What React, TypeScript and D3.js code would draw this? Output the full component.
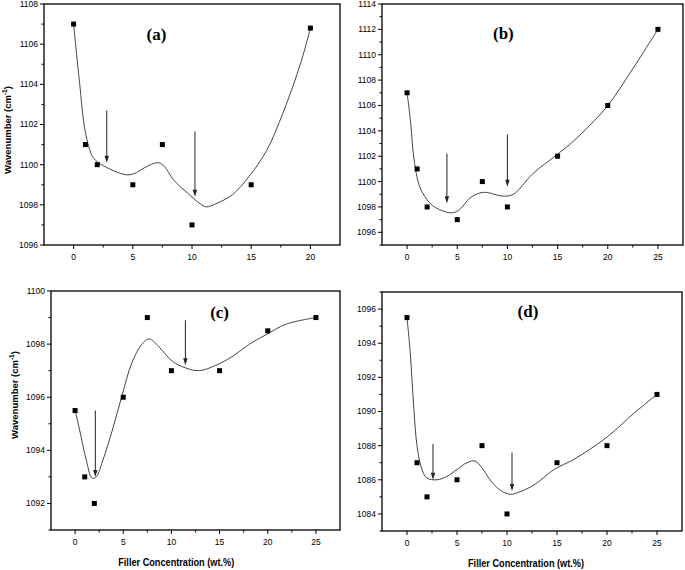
import * as d3 from "d3";

// panel (a)
const aX = [0, 1, 2, 5, 7.5, 10, 15, 20];
const aY = [1107, 1101, 1100, 1099, 1101, 1097, 1099, 1106.8];
const aFitX = [0, 0.5, 1, 1.6, 2.1, 3, 4.4, 5.1, 6, 7.1, 7.6, 8.5, 9.6, 10.7, 11.2, 12, 13.4, 14.8, 16.3, 17.7, 19.2, 20];
const aFitY = [1107, 1104.1, 1101.6, 1100.4, 1100.1, 1099.8, 1099.5, 1099.55, 1099.85, 1100.1, 1099.95, 1099.2, 1098.6, 1098.05, 1097.9, 1098.05, 1098.5, 1099.4, 1100.7, 1102.6, 1105.1, 1106.8];
const aArrows = [[2.8, 1102.7, 1100.1], [10.25, 1101.65, 1098.4]];

// panel (b)
const bX = [0, 1, 2, 5, 7.5, 10, 15, 20, 25];
const bY = [1107, 1101, 1098, 1097, 1100, 1098, 1102, 1106, 1112];
const bFitX = [0, 0.33, 0.66, 1.1, 1.55, 2.55, 3.9, 4.6, 5.25, 6.25, 7.25, 7.9, 8.9, 9.6, 10.6, 12.5, 14.9, 16.6, 19.9, 22.5, 25];
const bFitY = [1107, 1104.85, 1101.95, 1100, 1099.1, 1098.1, 1097.6, 1097.55, 1097.8, 1098.7, 1099.1, 1099.15, 1098.95, 1098.85, 1099.0, 1100.6, 1102.1, 1103.2, 1105.9, 1108.9, 1112];
const bArrows = [[3.97, 1102.2, 1098.3], [10.0, 1103.7, 1099.6]];

// panel (c)
const cX = [0, 1, 2, 5, 7.5, 10, 15, 20, 25];
const cY = [1095.5, 1093, 1092, 1096, 1099, 1097, 1097, 1098.5, 1099];
const cFitX = [0, 0.45, 1.15, 1.77, 2.2, 2.86, 3.9, 4.9, 5.9, 6.95, 7.7, 8.7, 10.1, 11.5, 12.9, 14.6, 16.4, 18.1, 19.8, 21.9, 25];
const cFitY = [1095.5, 1094.8, 1093.65, 1092.95, 1093.0, 1093.6, 1094.8, 1096.1, 1097.3, 1098.0, 1098.2, 1097.9, 1097.35, 1097.1, 1097.0, 1097.2, 1097.55, 1098.0, 1098.35, 1098.75, 1099.0];
const cArrows = [[2.1, 1095.5, 1093.0], [11.45, 1098.9, 1097.2]];

// panel (d)
const dX = [0, 1, 2, 5, 7.5, 10, 15, 20, 25];
const dY = [1095.5, 1087, 1085, 1086, 1088, 1084, 1087, 1088, 1091];
const dFitX = [0, 0.33, 0.67, 1, 1.5, 2, 3, 4, 5, 6, 6.8, 7.5, 8.3, 9.3, 10.3, 11.3, 12.7, 14.7, 16.7, 20, 22.7, 25];
const dFitY = [1095.5, 1093.4, 1090.3, 1088, 1086.6, 1086.1, 1086.0, 1086.2, 1086.6, 1087.0, 1087.1, 1086.7, 1086.0, 1085.4, 1085.15, 1085.3, 1085.7, 1086.6, 1087.2, 1088.5, 1089.9, 1091];
const dArrows = [[2.6, 1088.1, 1086.0], [10.5, 1087.6, 1085.35]];

const xTicksA = [0, 5, 10, 15, 20];
const xTicksB = [0, 5, 10, 15, 20, 25];

const panels = [
  { label: "(a)", box: [44, 4, 340, 245], xd: [-2.5, 22.5], yd: [1096, 1108], xs: aX, ys: aY, fx: aFitX, fy: aFitY, arrows: aArrows, xticks: xTicksA, lab: [7, 1106.5], yTitle: 130, xTitle: null },
  { label: "(b)", box: [382, 4, 683, 245], xd: [-2.5, 27.5], yd: [1095, 1114], xs: bX, ys: bY, fx: bFitX, fy: bFitY, arrows: bArrows, xticks: xTicksB, lab: [9.6, 1111.7], yTitle: null, xTitle: null },
  { label: "(c)", box: [51, 291, 340, 530], xd: [-2.5, 27.5], yd: [1091, 1100], xs: cX, ys: cY, fx: cFitX, fy: cFitY, arrows: cArrows, xticks: xTicksB, lab: [15, 1099.2], yTitle: 395, xTitle: 10.5 },
  { label: "(d)", box: [382, 292, 682, 531], xd: [-2.5, 27.5], yd: [1083, 1097], xs: dX, ys: dY, fx: dFitX, fy: dFitY, arrows: dArrows, xticks: xTicksB, lab: [12.1, 1095.9], yTitle: null, xTitle: 11.9 },
];

const sans = "'Liberation Sans', Arial, sans-serif";

function Panel({ p }: { p: (typeof panels)[number] }) {
  const [l, t, r, b] = p.box;
  const x = d3.scaleLinear().domain(p.xd).range([l, r]);
  const y = d3.scaleLinear().domain(p.yd).range([b, t]);
  const major = d3.range(Math.ceil(p.yd[0] / 2) * 2, p.yd[1] + 0.01, 2);
  const minor = d3.range(Math.ceil(p.yd[0]), p.yd[1] + 0.01, 1).filter((v) => v % 2 !== 0);
  const xMinor = d3.range(p.xd[0] + 5, p.xd[1], 5);
  const fit = d3
    .line<number>()
    .x((d) => x(d))
    .y((_d, i) => y(p.fy[i]))
    .curve(d3.curveCatmullRom.alpha(0.5));

  return (
    <g>
      <rect x={l} y={t} width={r - l} height={b - t} fill="none" stroke="#000" strokeWidth={1.3} />
      {major.map((v) => (
        <g key={"ym" + v}>
          <line x1={l - 4} x2={l} y1={y(v)} y2={y(v)} stroke="#000" />
          <text x={l - 6} y={y(v)} dy="0.35em" textAnchor="end" fontSize={8.5} fontFamily={sans}>
            {v}
          </text>
        </g>
      ))}
      {minor.map((v) => (
        <line key={"yn" + v} x1={l - 2.5} x2={l} y1={y(v)} y2={y(v)} stroke="#000" />
      ))}
      {p.xticks.map((v) => (
        <g key={"xm" + v}>
          <line x1={x(v)} x2={x(v)} y1={b} y2={b + 4} stroke="#000" />
          <text x={x(v)} y={b + 15} textAnchor="middle" fontSize={8.5} fontFamily={sans}>
            {v}
          </text>
        </g>
      ))}
      {xMinor.map((v) => (
        <line key={"xn" + v} x1={x(v)} x2={x(v)} y1={b} y2={b + 2.5} stroke="#000" />
      ))}
      <path d={fit(p.fx) ?? ""} fill="none" stroke="#444" strokeWidth={1} />
      {p.xs.map((v, i) => (
        <rect key={"pt" + i} x={x(v) - 2.5} y={y(p.ys[i]) - 2.5} width={5} height={5} fill="#000" />
      ))}
      {p.arrows.map(([ax, y0, y1], i) => (
        <g key={"ar" + i}>
          <line x1={x(ax)} x2={x(ax)} y1={y(y0)} y2={y(y1) - 6} stroke="#222" strokeWidth={1} />
          <path
            d={`M${x(ax) - 2.2},${y(y1) - 7}L${x(ax) + 2.2},${y(y1) - 7}L${x(ax)},${y(y1)}Z`}
            fill="#222"
          />
        </g>
      ))}
      <text
        x={x(p.lab[0])}
        y={y(p.lab[1])}
        dy="0.35em"
        textAnchor="middle"
        fontSize={17}
        fontWeight="bold"
        fontFamily="'Liberation Serif', 'Times New Roman', serif"
      >
        {p.label}
      </text>
      {p.yTitle !== null && (
        <text
          transform={`translate(${l - 33},${p.yTitle}) rotate(-90)`}
          textAnchor="middle"
          fontSize={9.5}
          fontWeight="bold"
          fontFamily={sans}
        >
          Wavenumber (cm
          <tspan fontSize={6.5} dy={-4}>-1</tspan>
          <tspan dy={4}>)</tspan>
        </text>
      )}
      {p.xTitle !== null && (
        <text
          x={x(p.xTitle)}
          y={b + 36}
          textAnchor="middle"
          fontSize={10}
          fontWeight="bold"
          fontFamily={sans}
          textLength={116}
          lengthAdjust="spacingAndGlyphs"
        >
          Filler Concentration (wt.%)
        </text>
      )}
    </g>
  );
}

export default function App() {
  return (
    <svg
      width={685}
      height={570}
      style={{ position: "absolute", left: 0, top: 0, background: "#fff" }}
    >
      {panels.map((p) => (
        <Panel key={p.label} p={p} />
      ))}
    </svg>
  );
}
